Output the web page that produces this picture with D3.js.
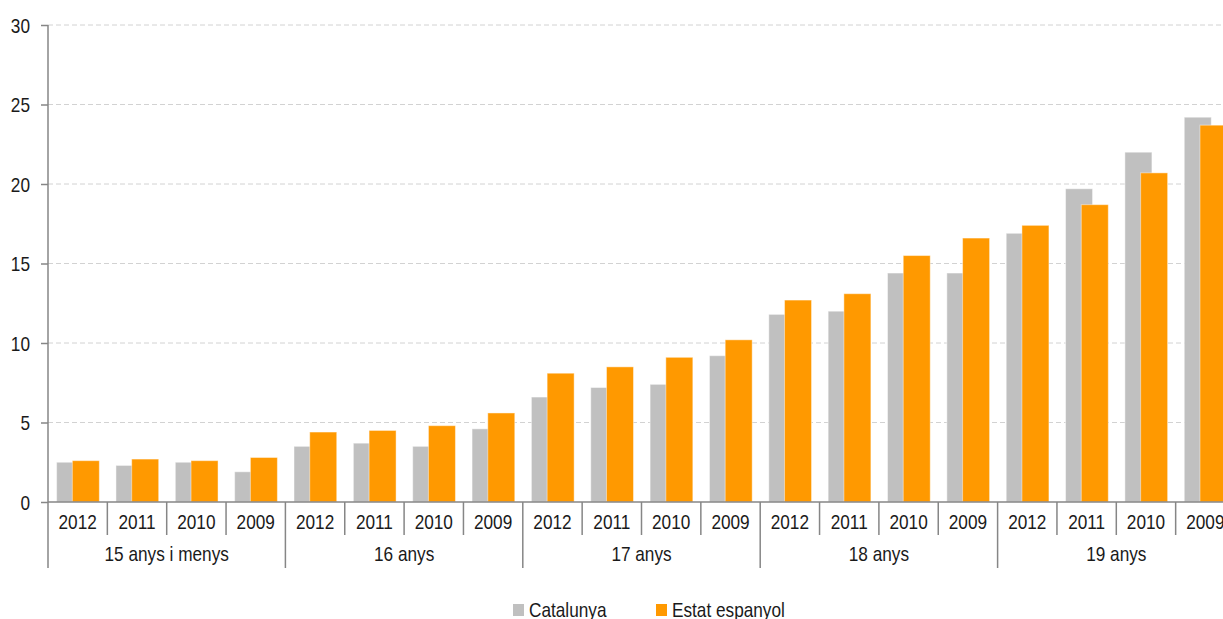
<!DOCTYPE html>
<html>
<head>
<meta charset="utf-8">
<script src="https://cdn.jsdelivr.net/npm/d3@7"></script>
<style>
  body { margin: 0; background: #fff; }
  svg text { font-family: "Liberation Sans", Arial, sans-serif; fill: #1a1a1a; font-size: 21px; }
</style>
</head>
<body>
<svg id="chart" width="1223" height="619"></svg>
<script>
// Age groups and the years shown inside each group
const ageGroups = ["15 anys i menys", "16 anys", "17 anys", "18 anys", "19 anys"];
const years = ["2012", "2011", "2010", "2009"];

// Values per age group / year (same order as ageGroups × years)
const catalunya = [2.5, 2.3, 2.5, 1.9,  3.5, 3.7, 3.5, 4.6,  6.6, 7.2, 7.4, 9.2,  11.8, 12.0, 14.4, 14.4,  16.9, 19.7, 22.0, 24.2];
const estat     = [2.6, 2.7, 2.6, 2.8,  4.4, 4.5, 4.8, 5.6,  8.1, 8.5, 9.1, 10.2, 12.7, 13.1, 15.5, 16.6,  17.4, 18.7, 20.7, 23.7];

const seriesNames = ["Catalunya", "Estat espanyol"];
const seriesColors = ["#c0c0c0", "#ff9900"];
const yTicks = [0, 5, 10, 15, 20, 25, 30];

// Flat category list: one entry per group/year pair
const cats = [];
ageGroups.forEach((g, gi) => years.forEach((yr, yi) => cats.push({ key: gi + "-" + yi, group: g, year: yr, gi })));

const svg = d3.select("#chart");
const plotLeft = 48, plotTop = 25, plotBottom = 502;
const bandW = 59.35;
const plotRight = plotLeft + bandW * cats.length;

const x = d3.scaleBand().domain(cats.map(c => c.key)).range([plotLeft, plotRight]).padding(0);
const y = d3.scaleLinear().domain([0, 30]).range([plotBottom, plotTop]);

const axisColor = "#868686";
// Condensed lettering: regular sans squeezed horizontally
const squeeze = 0.82;
const placeText = (sel, fx, fy) => sel.attr("transform", (d, i) => `translate(${fx(d, i)},${fy(d, i)}) scale(${squeeze},1)`);

// Horizontal dashed gridlines
svg.append("g")
  .selectAll("line")
  .data(yTicks.filter(t => t > 0))
  .join("line")
  .attr("x1", plotLeft).attr("x2", plotRight)
  .attr("y1", d => y(d)).attr("y2", d => y(d))
  .attr("stroke", "#d2d2d2")
  .attr("stroke-width", 1)
  .attr("stroke-dasharray", "5,3");

// Bars: Catalunya behind, Estat espanyol overlapping on top
const bw = x.bandwidth();
const barW = bw * 0.455;
const offsets = [bw * 0.145, bw * 0.41];
[catalunya, estat].forEach((vals, si) => {
  svg.append("g")
    .selectAll("rect")
    .data(cats)
    .join("rect")
    .attr("x", d => x(d.key) + offsets[si])
    .attr("y", (d, i) => y(vals[i]))
    .attr("width", barW)
    .attr("height", (d, i) => y(0) - y(vals[i]))
    .attr("fill", seriesColors[si])
    .attr("stroke", "rgba(255,255,255,0.45)")
    .attr("stroke-width", 1);
});

// Y axis: ticks from d3.axisLeft, labels redrawn condensed
const yAxis = d3.axisLeft(y).tickValues(yTicks).tickSize(7).tickFormat("");
const gy = svg.append("g").attr("transform", `translate(${plotLeft},0)`).call(yAxis);
gy.select(".domain").remove();
gy.selectAll(".tick line").attr("stroke", axisColor).attr("stroke-width", 1.5);
gy.selectAll(".tick text").remove();
svg.append("g")
  .selectAll("text")
  .data(yTicks)
  .join("text")
  .attr("text-anchor", "end")
  .call(placeText, () => plotLeft - 18, d => y(d) + 7.5)
  .text(d => d);

svg.append("line")
  .attr("x1", plotLeft).attr("x2", plotLeft)
  .attr("y1", plotTop).attr("y2", 568)
  .attr("stroke", axisColor).attr("stroke-width", 1.5);

// X baseline
svg.append("line")
  .attr("x1", plotLeft).attr("x2", plotRight)
  .attr("y1", plotBottom).attr("y2", plotBottom)
  .attr("stroke", axisColor).attr("stroke-width", 1.5);

// Year dividers and labels
svg.append("g")
  .selectAll("line")
  .data(cats.filter((c, i) => i > 0 && i % years.length !== 0))
  .join("line")
  .attr("x1", d => x(d.key)).attr("x2", d => x(d.key))
  .attr("y1", plotBottom).attr("y2", 535)
  .attr("stroke", axisColor).attr("stroke-width", 1.5);

svg.append("g")
  .selectAll("text")
  .data(cats)
  .join("text")
  .attr("text-anchor", "middle")
  .call(placeText, d => x(d.key) + bw / 2, () => 529)
  .text(d => d.year);

// Group dividers and labels
const groupStart = gi => x(gi + "-0");
svg.append("g")
  .selectAll("line")
  .data(ageGroups.map((g, gi) => gi).filter(gi => gi > 0))
  .join("line")
  .attr("x1", gi => groupStart(gi)).attr("x2", gi => groupStart(gi))
  .attr("y1", plotBottom).attr("y2", 568)
  .attr("stroke", axisColor).attr("stroke-width", 1.5);

svg.append("g")
  .selectAll("text")
  .data(ageGroups)
  .join("text")
  .attr("text-anchor", "middle")
  .call(placeText, (g, gi) => groupStart(gi) + bw * years.length / 2, () => 561)
  .text(g => g);

// Legend
const legendX = [513, 656];
const legend = svg.append("g");
seriesNames.forEach((name, i) => {
  legend.append("rect")
    .attr("x", legendX[i]).attr("y", 604)
    .attr("width", 11).attr("height", 12)
    .attr("fill", seriesColors[i]);
  legend.append("text")
    .datum(name)
    .call(placeText, () => legendX[i] + 16, () => 617)
    .text(name);
});
</script>
</body>
</html>
